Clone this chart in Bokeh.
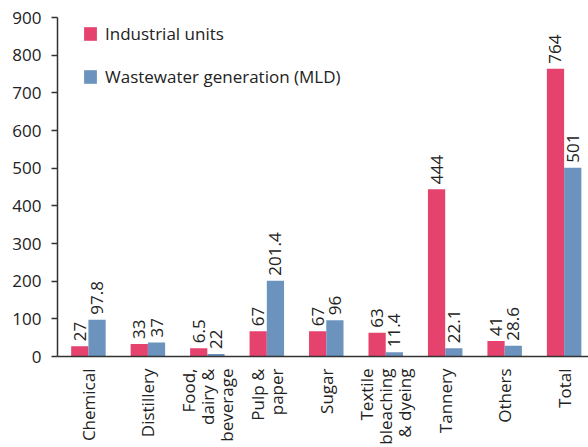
import math
from bokeh.plotting import figure
from bokeh.models import ColumnDataSource, Range1d, FixedTicker, Legend, LegendItem
from bokeh.core.properties import value
from bokeh.embed import file_html
from bokeh.resources import INLINE

categories = ["Chemical", "Distillery", "Food,\ndairy &\nbeverage", "Pulp &\npaper", "Sugar",
              "Textile\nbleaching\n& dyeing", "Tannery", "Others", "Total"]
industrial_units = [27, 33, 22, 67, 67, 63, 444, 41, 764]
wastewater_mld = [97.8, 37, 6.5, 201.4, 96, 11.4, 22.1, 28.6, 501]
units_labels = ["27", "33", "6.5", "67", "67", "63", "444", "41", "764"]
wastewater_labels = ["97.8", "37", "22", "201.4", "96", "11.4", "22.1", "28.6", "501"]
y_ticks = [0, 100, 200, 300, 400, 500, 600, 700, 800, 900]

RED = "#E5426E"
BLUE = "#6B93BD"
FONT = "Open Sans"
bw = 0.29
line_gap = 0.32
xs = list(range(len(categories)))

src = ColumnDataSource(dict(
    xr=[x - bw / 2 for x in xs], xb=[x + bw / 2 for x in xs],
    units=industrial_units, ww=wastewater_mld,
    ul=units_labels, wl=wastewater_labels,
))

p = figure(width=588, height=447, output_backend="svg", toolbar_location=None,
           x_range=Range1d(-0.52, 8.41), y_range=Range1d(0, 900),
           min_border_left=57, min_border_right=0, min_border_top=17, min_border_bottom=88)
p.outline_line_color = None
p.xgrid.visible = False
p.ygrid.visible = False

r1 = p.vbar(x="xr", top="units", width=bw, source=src, fill_color=RED, line_color=None)
r2 = p.vbar(x="xb", top="ww", width=bw, source=src, fill_color=BLUE, line_color=None)

common = dict(angle=math.pi / 2, text_align="left", text_baseline="middle",
              text_font=value(FONT), text_font_size="17px", text_color="#222222", y_offset=-5)
p.text(x="xr", y="units", text="ul", source=src, **common)
p.text(x="xb", y="ww", text="wl", source=src, **common)

# axes
p.yaxis.ticker = FixedTicker(ticks=y_ticks)
p.yaxis.major_tick_out = 6
p.yaxis.major_tick_in = 0
p.yaxis.minor_tick_line_color = None
p.yaxis.axis_line_color = "#333333"
p.yaxis.axis_line_width = 1.5
p.yaxis.major_tick_line_color = "#333333"
p.yaxis.major_tick_line_width = 1.5
p.yaxis.major_label_text_font = FONT
p.yaxis.major_label_text_font_size = "17px"
p.yaxis.major_label_text_color = "#222222"
p.yaxis.major_label_standoff = 10

# each line of a category label is its own tick, so every line ends at the axis
tick_pos = []
tick_text = {}
for i, c in enumerate(categories):
    lines = c.split("\n")
    n = len(lines)
    for j, ln in enumerate(lines):
        pos = round(i + (j - (n - 1) / 2) * line_gap, 3)
        tick_pos.append(pos)
        tick_text[pos] = ln

p.xaxis.ticker = FixedTicker(ticks=tick_pos)
p.xaxis.major_label_overrides = tick_text
p.xaxis.major_label_orientation = math.pi / 2
p.xaxis.major_tick_line_color = None
p.xaxis.minor_tick_line_color = None
p.xaxis.axis_line_color = "#333333"
p.xaxis.axis_line_width = 1.5
p.xaxis.major_label_text_font = FONT
p.xaxis.major_label_text_font_size = "17px"
p.xaxis.major_label_text_color = "#222222"
p.xaxis.major_label_standoff = 6

legend = Legend(items=[LegendItem(label="Industrial units", renderers=[r1]),
                       LegendItem(label="Wastewater generation (MLD)", renderers=[r2])],
                location=(25, 268), orientation="vertical")
legend.border_line_color = None
legend.background_fill_alpha = 0
legend.padding = 0
legend.margin = 0
legend.spacing = 20
legend.glyph_width = 16
legend.glyph_height = 17
legend.label_height = 17
legend.label_width = 260
legend.label_standoff = 7
legend.label_text_font = FONT
legend.label_text_font_size = "17px"
legend.label_text_color = "#222222"
p.add_layout(legend)

open("out.html", "w").write(file_html(p, INLINE))
